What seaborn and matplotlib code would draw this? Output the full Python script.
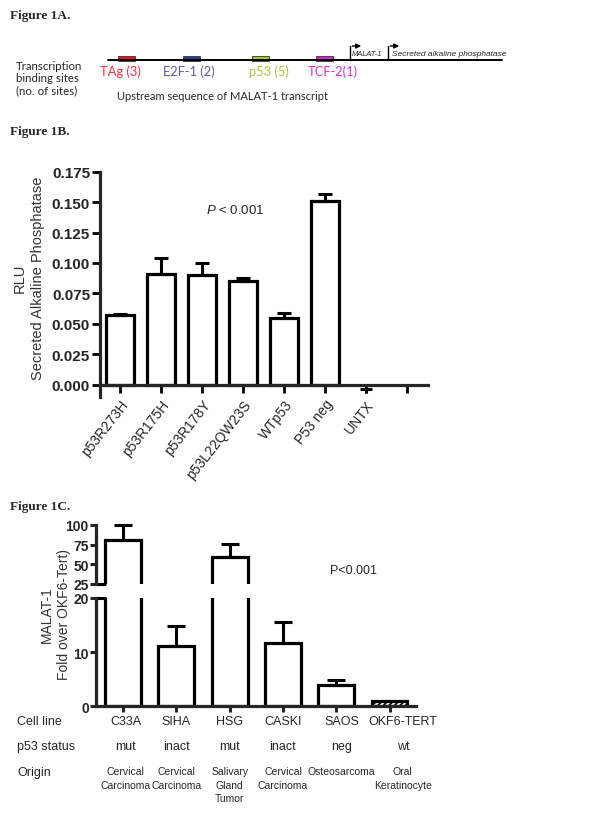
import numpy as np
import pandas as pd
import matplotlib
matplotlib.use("Agg")
import matplotlib.pyplot as plt
import matplotlib.transforms as mtransforms
from matplotlib.patches import Rectangle
from matplotlib.ticker import FormatStrFormatter
import seaborn as sns

# Figure 1A - binding sites upstream of MALAT-1
site_labels = ["TAg (3)", "E2F-1 (2)", "p53 (5)", "TCF-2(1)"]
site_box_colors = ["#e8101a", "#2c3a9c", "#98d018", "#e020d8"]
site_text_colors = ["#f03038", "#5a5aa8", "#a6c83a", "#d830d0"]

# Figure 1B - reporter activity
constructs = ["p53R273H", "p53R175H", "p53R178Y", "p53L22QW23S", "WTp53", "P53 neg", "UNTX", ""]
rlu_mean = [0.057, 0.091, 0.090, 0.085, 0.055, 0.151, -0.0035, np.nan]
rlu_sem = [0.001, 0.013, 0.010, 0.003, 0.004, 0.006, 0.003, np.nan]

# Figure 1C - MALAT-1 expression
cell_lines = ["C33A", "SIHA", "HSG", "CASKI", "SAOS", "OKF6-TERT"]
p53_status = ["mut", "inact", "mut", "inact", "neg", "wt"]
origin = ["Cervical\nCarcinoma", "Cervical\nCarcinoma", "Salivary\nGland\nTumor",
          "Cervical\nCarcinoma", "Osteosarcoma", "Oral\nKeratinocyte"]
fold_mean = [80.5, 11.1, 59.4, 11.7, 3.9, 1.0]
fold_sem = [19.5, 3.7, 16.0, 3.8, 1.0, 0.0]

sns.set_style("ticks")
plt.rcParams["font.family"] = ["Liberation Sans", "DejaVu Sans"]
plt.rcParams["mathtext.fontset"] = "custom"
plt.rcParams["mathtext.it"] = "Liberation Sans:italic"
plt.rcParams["hatch.linewidth"] = 1.2

W, H = 602, 820
fig = plt.figure(figsize=(6.02, 8.2), dpi=100)


def px_axes(x0, y0, x1, y1):
    a = fig.add_axes([x0 / W, 1 - y1 / H, (x1 - x0) / W, (y1 - y0) / H])
    a.set_facecolor("none")
    return a


# overlay in pixel coordinates for the free text and the schematic
ov = px_axes(0, 0, W, H)
ov.set_xlim(0, W)
ov.set_ylim(H, 0)
ov.axis("off")

title_kw = dict(family="Liberation Serif", weight="bold", fontsize=9.5, va="center")
ov.text(10, 16, "Figure 1A.", **title_kw)
ov.text(10, 132, "Figure 1B.", **title_kw)
ov.text(10, 507, "Figure 1C.", **title_kw)

# ---- Figure 1A schematic
ov.plot([108, 502], [61, 61], color="black", lw=1.4)
box_x = [118, 183, 252, 316]
label_x = [120, 189, 269, 333]
for bx, lx, lab, fc, tc in zip(box_x, label_x, site_labels, site_box_colors, site_text_colors):
    ov.add_patch(Rectangle((bx, 57), 17, 4.5, facecolor=fc, edgecolor="#333333", lw=0.6))
    ov.text(lx, 71.5, lab, color=tc, family="Lato", fontsize=9.3, ha="center", va="center")

for x0, x1 in [(350, 362), (388, 400)]:
    ov.plot([x0, x0], [61, 47], color="black", lw=1.0)
    ov.annotate("", xy=(x1 + 2, 47), xytext=(x0 - 0.5, 47),
                arrowprops=dict(arrowstyle="-|>", lw=1.0, color="black", mutation_scale=7))
ov.text(352, 55, "MALAT-1", fontsize=5.4, va="center", style="italic")
ov.text(392, 55, "Secreted alkaline phosphatase", fontsize=6.0, va="center", style="italic")

for yy, txt in zip([66, 79, 91], ["Transcription", "binding sites", "(no. of sites)"]):
    ov.text(16, yy, txt, family="Lato", fontsize=8.3, va="center")
ov.text(117, 97, "Upstream sequence of MALAT-1 transcript", family="Lato", fontsize=8.0, va="center")

# ---- Figure 1B
axb = px_axes(99.5, 172.7, 427.5, 397.9)
df_b = pd.DataFrame({"construct": constructs,
                     "rlu": [m if m > 0 else np.nan for m in rlu_mean]})
sns.barplot(data=df_b, x="construct", y="rlu", order=constructs, color="white",
            edgecolor="black", linewidth=2.3, width=0.68, errorbar=None, ax=axb)
for i, (m, e) in enumerate(zip(rlu_mean, rlu_sem)):
    if np.isnan(m):
        continue
    if m > 0:
        axb.errorbar(i, m, yerr=[[0], [e]], fmt="none", ecolor="black",
                     elinewidth=2.2, capsize=4.8, capthick=2.2)
    else:
        axb.errorbar(i, m, yerr=e, fmt="_", color="black", ms=8, mew=2.2,
                     elinewidth=2.2, capsize=0, clip_on=False)
axb.set_xlim(-0.5, 7.5)
axb.set_ylim(-0.01, 0.175)
axb.set_yticks(np.arange(0, 0.1751, 0.025))
axb.yaxis.set_major_formatter(FormatStrFormatter("%.3f"))
sns.despine(ax=axb)
axb.spines["bottom"].set_position(("data", 0))
for s in ("left", "bottom"):
    axb.spines[s].set_linewidth(2.3)
axb.set_xticks(np.arange(len(constructs)))
axb.set_xticklabels(constructs, rotation=52, ha="right", rotation_mode="anchor", fontsize=10)
axb.tick_params(axis="both", length=5.8, width=2.0, color="black")
axb.tick_params(axis="y", labelsize=11, pad=1)
axb.tick_params(axis="x", pad=3)
for t in axb.get_yticklabels():
    t.set_fontweight("bold")
axb.set_xlabel("")
axb.set_ylabel("")
ov.text(20, 278, "RLU", rotation=90, fontsize=10.5, ha="center", va="center", color="#333333")
ov.text(38, 278, "Secreted Alkaline Phosphatase", rotation=90, fontsize=10.5,
        ha="center", va="center", color="#333333")
ov.text(235, 210, r"$P$ < 0.001", fontsize=9.5, ha="center", va="center")

# ---- Figure 1C (broken y axis)
axt = px_axes(96.4, 526, 416.2, 585)
axl = px_axes(96.4, 599, 416.2, 707.3)
df_c = pd.DataFrame({"cell": cell_lines, "fold": fold_mean})
for ax in (axt, axl):
    sns.barplot(data=df_c, x="cell", y="fold", order=cell_lines, color="white",
                edgecolor="black", linewidth=2.3, width=0.67, errorbar=None, ax=ax)
    ax.patches[5].set_hatch("//////")
    ax.set_xlim(-0.5, 5.5)
    ax.set_xlabel("")
    ax.set_ylabel("")
axt.set_ylim(25, 100)
axl.set_ylim(0, 20)
for i, (m, e) in enumerate(zip(fold_mean, fold_sem)):
    if e <= 0:
        continue
    target = axt if m > 25 else axl
    target.errorbar(i, m, yerr=[[0], [e]], fmt="none", ecolor="black",
                    elinewidth=2.2, capsize=6.5, capthick=2.2, clip_on=False)

sns.despine(ax=axt, bottom=True)
sns.despine(ax=axl)
axt.set_xticks([])
axt.set_yticks([25, 50, 75, 100])
axl.set_yticks([0, 10, 20])
axl.set_xticks(np.arange(len(cell_lines)))
axl.set_xticklabels([])
for ax in (axt, axl):
    ax.spines["left"].set_linewidth(2.3)
    ax.tick_params(axis="y", length=4.5, width=2.2, labelsize=10, pad=1)
    for t in ax.get_yticklabels():
        t.set_fontweight("bold")
axl.spines["bottom"].set_linewidth(2.3)
axl.tick_params(axis="x", length=4, width=2.2)
# break marks
axt.plot([-0.5, -0.32], [25, 25], color="black", lw=2.2, clip_on=False, solid_capstyle="butt")
axl.plot([-0.5, -0.32], [20, 20], color="black", lw=2.2, clip_on=False, solid_capstyle="butt")

ov.text(47, 615, "MALAT-1", rotation=90, fontsize=10, ha="center", va="center", color="#333333")
ov.text(64, 615, "Fold over OKF6-Tert)", rotation=90, fontsize=10, ha="center", va="center",
        color="#333333")
ov.text(330, 571, "P<0.001", fontsize=9, va="center")

# table under the bars
tr = mtransforms.blended_transform_factory(axl.transData, ov.transData)
nudge = [0.05, 0.0, 0.0, 0.0, 0.1, 0.25]
for yy, txt in zip([722, 747, 773], ["Cell line", "p53 status", "Origin"]):
    ov.text(17, yy, txt, fontsize=9, va="center")
for i in range(len(cell_lines)):
    ov.text(i + nudge[i], 722, cell_lines[i], transform=tr, fontsize=9, ha="center", va="center")
    ov.text(i + nudge[i], 747, p53_status[i], transform=tr, fontsize=9, ha="center", va="center")
    ov.text(i + nudge[i], 767, origin[i], transform=tr, fontsize=7.5, ha="center", va="top",
            linespacing=1.45)

fig.savefig("out.png", dpi=100)
